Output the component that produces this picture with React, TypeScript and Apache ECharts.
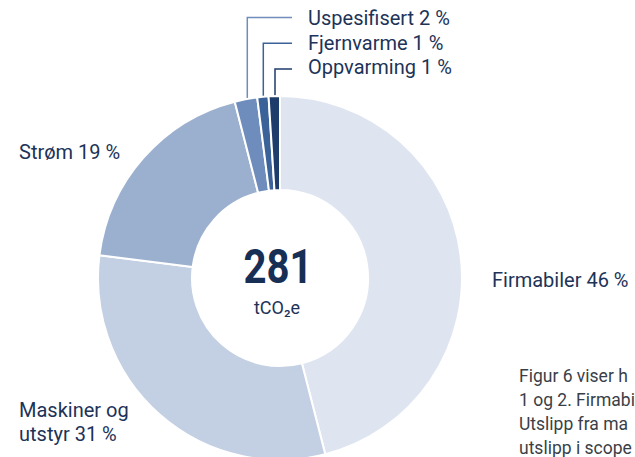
import React, { useEffect, useRef } from "react";
import * as echarts from "echarts";

const categories = ["Firmabiler", "Maskiner og utstyr", "Strøm", "Uspesifisert", "Fjernvarme", "Oppvarming"];
const shares = [46, 31, 19, 2, 1, 1];
const sliceColors = ["#dfe5f0", "#c3cfe2", "#9bb0cf", "#6f8dbc", "#3b6399", "#1e3c6b"];
const totalValue = "281";
const totalUnit = "tCO₂e";
const paragraphLines = ["Figur 6 viser h", "1 og 2. Firmabi", "Utslipp fra ma", "utslipp i scope"];

// label placement (layout only)
const labelSpots: { x: number; y: number; line?: number[][] }[] = [
  { x: 492, y: 280 },
  { x: 19, y: 421.5 },
  { x: 19, y: 152.3 },
  { x: 308, y: 18.3, line: [[247.3, 100], [247.3, 17.5], [292, 17.5]] },
  { x: 308, y: 43.3, line: [[263.3, 97.5], [263.3, 43.3], [292, 43.3]] },
  { x: 308, y: 67.3, line: [[275, 96.5], [275, 69], [292, 69]] },
];

export default function App() {
  const ref = useRef<HTMLDivElement>(null);
  useEffect(() => {
    const chart = echarts.init(ref.current!, null, { renderer: "svg" });
    const textColor = "#1d3358";
    chart.setOption({
      animation: false,
      backgroundColor: "#ffffff",
      series: [
        {
          type: "pie",
          center: [280, 278],
          radius: [88, 182],
          startAngle: 90,
          clockwise: true,
          avoidLabelOverlap: false,
          silent: true,
          itemStyle: { borderColor: "#ffffff", borderWidth: 2 },
          label: {
            show: true,
            position: "outside",
            color: textColor,
            fontFamily: "Roboto",
            fontSize: 20,
            lineHeight: 24,
            formatter: (p: any) => p.name.replace(" og ", " og\n") + " " + p.value + " %",
          },
          labelLayout: (params: any) => {
            const s = labelSpots[params.dataIndex];
            const out: any = { x: s.x, y: s.y, align: "left", verticalAlign: "middle" };
            if (s.line) out.labelLinePoints = s.line;
            return out;
          },
          data: categories.map((name, i) => ({
            name,
            value: shares[i],
            itemStyle: { color: sliceColors[i] },
            labelLine: {
              show: !!labelSpots[i].line,
              lineStyle: { color: sliceColors[i], width: 1.5 },
            },
          })),
        },
      ],
      graphic: [
        {
          type: "text",
          x: 278,
          y: 266.5,
          scaleX: 0.82,
          style: {
            text: totalValue,
            fontFamily: "Roboto",
            fontWeight: "bold",
            fontSize: 49,
            fill: "#172e55",
            align: "center",
            verticalAlign: "middle",
          },
        },
        {
          type: "text",
          x: 277,
          y: 307.9,
          style: {
            text: totalUnit,
            fontFamily: "Roboto",
            fontSize: 18,
            fill: textColor,
            align: "center",
            verticalAlign: "middle",
          },
        },
        {
          type: "text",
          x: 519,
          y: 364,
          style: {
            text: paragraphLines.join("\n"),
            fontFamily: "Roboto",
            fontSize: 17.5,
            lineHeight: 24,
            fill: "#3a3f47",
            align: "left",
            verticalAlign: "top",
          },
        },
      ],
    });
    return () => chart.dispose();
  }, []);
  return (
    <div
      ref={ref}
      style={{ position: "fixed", left: 0, top: 0, width: 635, height: 457 }}
    />
  );
}
